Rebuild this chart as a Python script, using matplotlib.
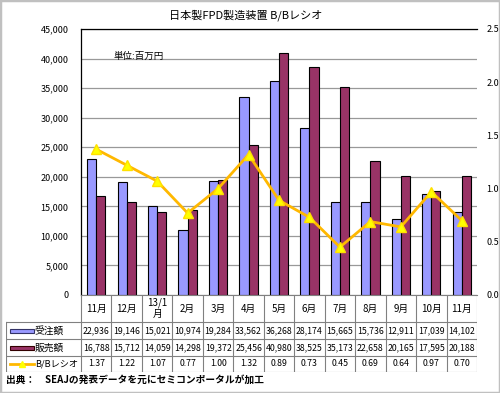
import numpy as np
import matplotlib.pyplot as plt
from matplotlib.patches import Rectangle

plt.rcParams['font.family'] = ['Noto Sans CJK JP', 'DejaVu Sans']

months = ['11月', '12月', '13/1\n月', '2月', '3月', '4月', '5月', '6月', '7月', '8月', '9月', '10月', '11月']
orders = [22936, 19146, 15021, 10974, 19284, 33562, 36268, 28174, 15665, 15736, 12911, 17039, 14102]
sales = [16788, 15712, 14059, 14298, 19372, 25456, 40980, 38525, 35173, 22658, 20165, 17595, 20188]
bb_ratio = [1.37, 1.22, 1.07, 0.77, 1.00, 1.32, 0.89, 0.73, 0.45, 0.69, 0.64, 0.97, 0.70]

c_ord = '#9999FF'
c_sal = '#993366'
c_line = '#FFB800'
c_mark = '#FFFF00'

W, H = 500, 393
fig = plt.figure(figsize=(W / 100, H / 100), dpi=100)

# plot area in pixels
L, R, T, B = 81, 477, 29, 295
ax = fig.add_axes([L / W, 1 - B / H, (R - L) / W, (B - T) / H])
x = np.arange(len(months))
bw = 0.3
ax.bar(x - bw / 2, orders, bw, color=c_ord, edgecolor='black', linewidth=0.8, zorder=2)
ax.bar(x + bw / 2, sales, bw, color=c_sal, edgecolor='black', linewidth=0.8, zorder=2)
ax.set_xlim(-0.5, len(months) - 0.5)
ax.set_ylim(0, 45000)
yt = np.arange(0, 45001, 5000)
ax.set_yticks(yt)
ax.set_yticklabels(['0' if v == 0 else f'{v:,}' for v in yt], fontsize=6.5)
ax.set_xticks([])
ax.tick_params(axis='y', length=0, pad=9)
ax.grid(axis='y', color='#999999', linewidth=0.9, zorder=0)
ax.set_axisbelow(True)
ax.spines['right'].set_visible(False)
ax.spines['bottom'].set_color('#808080')
for s in ['left', 'top']:
    ax.spines[s].set_color('black')
    ax.spines[s].set_linewidth(0.9)
ax.text(0.58, 40400, '単位:百万円', fontsize=6.8, va='center')

ax2 = ax.twinx()
ax2.plot(x, bb_ratio, color=c_line, linewidth=2, marker='^', markersize=7.5,
         markerfacecolor=c_mark, markeredgecolor='#FFE000', zorder=3)
ax2.set_ylim(0, 2.5)
rt = np.arange(0, 2.51, 0.5)
ax2.set_yticks(rt)
ax2.set_yticklabels([f'{v:.1f}' for v in rt], fontsize=6.5)
ax2.tick_params(axis='y', length=0, pad=7)
for s in ax2.spines.values():
    s.set_visible(False)

# data table under the chart
TB = 372
col_w = (R - L) / len(months)
lab_w = (L - 6) / col_w
tax = fig.add_axes([6 / W, 1 - TB / H, (R - 6) / W, (TB - B) / H])
tax.set_xlim(-0.5 - lab_w, len(months) - 0.5)
tax.set_ylim(TB, B)
tax.axis('off')
gc = '#808080'
rows_y = [322, 339, 356, 372]
x0 = -0.5 - lab_w
x1 = len(months) - 0.5
for yy in rows_y:
    tax.plot([x0, x1], [yy, yy], color=gc, lw=0.8)
tax.plot([x0, x0], [322, 372], color=gc, lw=0.8)
for i in range(len(months) + 1):
    tax.plot([i - 0.5, i - 0.5], [B, TB], color=gc, lw=0.8)

for i, m in enumerate(months):
    tax.text(i, 308.5, m, ha='center', va='center', fontsize=7, linespacing=1.1)
    tax.text(i, 330.5, f'{orders[i]:,}', ha='center', va='center', fontsize=6.3)
    tax.text(i, 347.5, f'{sales[i]:,}', ha='center', va='center', fontsize=6.3)
    tax.text(i, 364, f'{bb_ratio[i]:.2f}', ha='center', va='center', fontsize=6.3)

sw0 = x0 + 4 / col_w
sw1 = x0 + 28 / col_w
tx = x0 + 29 / col_w
tax.add_patch(Rectangle((sw0, 329), sw1 - sw0, 4, facecolor=c_ord, edgecolor='#333366', lw=0.8))
tax.add_patch(Rectangle((sw0, 346), sw1 - sw0, 4, facecolor=c_sal, edgecolor='#330000', lw=0.8))
tax.plot([sw0, sw1], [364, 364], color=c_line, lw=2)
tax.plot([(sw0 + sw1) / 2], [364], marker='^', markersize=5, color=c_mark)
tax.text(tx, 330.5, '受注額', va='center', fontsize=7)
tax.text(tx, 347.5, '販売額', va='center', fontsize=7)
tax.text(tx, 364, 'B/Bレシオ', va='center', fontsize=6.6)

fig.text(0.492, 1 - 15 / H, '日本製FPD製造装置 B/Bレシオ', ha='center', va='center', fontsize=8)
fig.text(6 / W, 1 - 380 / H, '出典：　SEAJの発表データを元にセミコンポータルが加工',
         va='center', fontsize=7, fontweight='bold')

fig.patches.append(Rectangle((0, 0), 1, 1, transform=fig.transFigure, fill=False,
                             edgecolor='#C0C0C0', linewidth=2.5))

fig.savefig('out.png', dpi=100)
